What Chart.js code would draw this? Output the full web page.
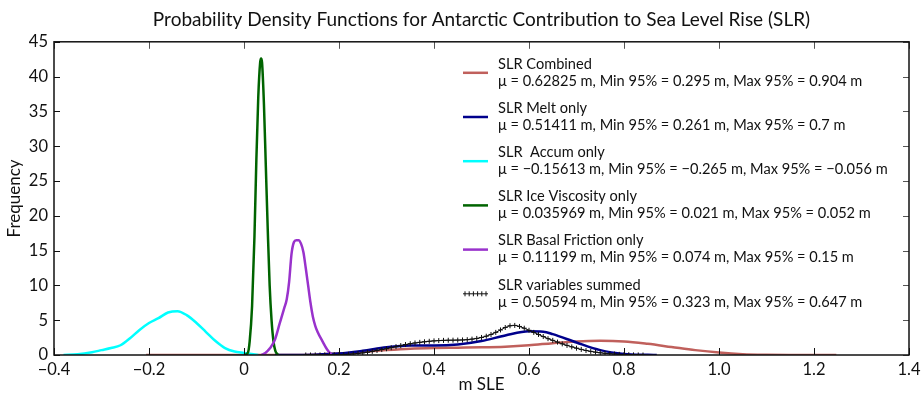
<!DOCTYPE html>
<html>
<head>
<meta charset="utf-8">
<script src="https://cdn.jsdelivr.net/npm/chart.js@4.4.1/dist/chart.umd.min.js"></script>
<style>
  html, body { margin: 0; padding: 0; background: #fff; }
  #wrap { width: 921px; height: 395px; }
</style>
</head>
<body>
<div id="wrap"><canvas id="pdf_plot" width="921" height="395"></canvas></div>
<script>
'use strict';

// Axis ticks
const X_TICKS = [-0.4, -0.2, 0, 0.2, 0.4, 0.6, 0.8, 1.0, 1.2, 1.4];
const Y_TICKS = [0, 5, 10, 15, 20, 25, 30, 35, 40, 45];

// Series names and legend stats
const NAMES = [
    "SLR Combined", "SLR Melt only", "SLR  Accum only",
    "SLR Ice Viscosity only", "SLR Basal Friction only", "SLR variables summed"
];
const STATS = [
    "\u03bc = 0.62825 m, Min 95% = 0.295 m, Max 95% = 0.904 m",
    "\u03bc = 0.51411 m, Min 95% = 0.261 m, Max 95% = 0.7 m",
    "\u03bc = \u22120.15613 m, Min 95% = \u22120.265 m, Max 95% = \u22120.056 m",
    "\u03bc = 0.035969 m, Min 95% = 0.021 m, Max 95% = 0.052 m",
    "\u03bc = 0.11199 m, Min 95% = 0.074 m, Max 95% = 0.15 m",
    "\u03bc = 0.50594 m, Min 95% = 0.323 m, Max 95% = 0.647 m"
];
const COLORS = ["#c0605c", "#00008c", "#00ffff", "#006400", "#9932cc", "#111111"];

// SLR Combined
const comb_x = [-0.206, 0.1, 0.15, 0.2, 0.25, 0.3, 0.35, 0.4, 0.45, 0.5, 0.55, 0.6, 0.65, 0.7, 0.75, 0.8, 0.85, 0.9, 0.95, 1.0, 1.05, 1.1, 1.15, 1.247];
const comb_y = [0, 0, 0.05, 0.2, 0.45, 0.7, 0.9, 1.0, 1.05, 1.1, 1.2, 1.4, 1.7, 1.95, 2.05, 1.95, 1.6, 1.15, 0.7, 0.35, 0.12, 0.03, 0, 0];

// SLR Melt only
const melt_x = [0.065, 0.15, 0.2, 0.25, 0.3, 0.35, 0.4, 0.45, 0.5, 0.55, 0.6, 0.63, 0.65, 0.7, 0.75, 0.8, 0.85, 0.869];
const melt_y = [0, 0.05, 0.2, 0.6, 1.1, 1.35, 1.35, 1.5, 2.0, 2.8, 3.4, 3.35, 3.0, 1.8, 0.7, 0.15, 0.02, 0];

// SLR Accum only
const accum_x = [-0.38, -0.35, -0.32, -0.30, -0.28, -0.26, -0.24, -0.22, -0.20, -0.18, -0.16, -0.14, -0.12, -0.10, -0.08, -0.06, -0.04, -0.02, 0, 0.02, 0.03];
const accum_y = [0, 0.1, 0.4, 0.7, 1.0, 1.4, 2.4, 3.6, 4.6, 5.3, 6.1, 6.3, 5.7, 4.6, 3.3, 2.0, 1.0, 0.5, 0.3, 0.1, 0];

// SLR Ice Viscosity only
const visc_x = [0.0, 0.008, 0.012, 0.017, 0.022, 0.026, 0.030, 0.034, 0.036, 0.038, 0.042, 0.046, 0.050, 0.054, 0.058, 0.062, 0.066, 0.072];
const visc_y = [0, 0.3, 2, 7, 17, 28, 37, 42, 42.6, 42, 36, 27, 18, 10, 5, 2, 0.6, 0];

// SLR Basal Friction only
const fric_x = [0.037, 0.045, 0.055, 0.065, 0.075, 0.085, 0.090, 0.095, 0.100, 0.105, 0.110, 0.115, 0.120, 0.125, 0.130, 0.135, 0.140, 0.145, 0.150, 0.155, 0.165, 0.175, 0.185];
const fric_y = [0, 0.3, 1.0, 2.2, 4.5, 6.8, 8.0, 10.5, 14.5, 16.2, 16.5, 16.5, 16.0, 14.8, 12.5, 10.0, 7.5, 5.5, 4.2, 3.3, 2.0, 0.8, 0];

// SLR variables summed
const sum_x = [0.13, 0.14, 0.15, 0.16, 0.17, 0.18, 0.19, 0.20, 0.21, 0.22, 0.23, 0.24, 0.25, 0.26, 0.27, 0.28, 0.29,
    0.30, 0.31, 0.32, 0.33, 0.34, 0.35, 0.36, 0.37, 0.38, 0.39, 0.40, 0.41, 0.42, 0.43, 0.44, 0.45, 0.46, 0.47, 0.48, 0.49,
    0.50, 0.51, 0.52, 0.53, 0.54, 0.55, 0.56, 0.57, 0.58, 0.59, 0.60, 0.61, 0.62, 0.63, 0.64, 0.65, 0.66, 0.67, 0.68, 0.69,
    0.70, 0.71, 0.72, 0.73, 0.74, 0.75, 0.76, 0.77, 0.78, 0.79, 0.80, 0.81, 0.82, 0.83, 0.84];
const sum_y = [0, 0, 0.01, 0.01, 0.02, 0.03, 0.04, 0.05, 0.07, 0.1, 0.15, 0.22, 0.3, 0.4, 0.52, 0.65, 0.78,
    0.9, 1.05, 1.2, 1.35, 1.5, 1.62, 1.73, 1.82, 1.9, 1.97, 2.03, 2.07, 2.1, 2.12, 2.13, 2.14, 2.16, 2.2, 2.28, 2.38,
    2.52, 2.7, 2.95, 3.25, 3.6, 3.95, 4.2, 4.25, 4.1, 3.85, 3.55, 3.25, 2.95, 2.65, 2.35, 2.1, 1.85, 1.6, 1.38, 1.17,
    0.98, 0.8, 0.65, 0.52, 0.41, 0.32, 0.24, 0.18, 0.13, 0.09, 0.06, 0.04, 0.02, 0.01, 0];

const SERIES = [
    [comb_x, comb_y], [melt_x, melt_y], [accum_x, accum_y],
    [visc_x, visc_y], [fric_x, fric_y], [sum_x, sum_y]
];

const FONT = "Lato, 'Noto Sans', sans-serif";

function points(xs, ys) {
    return xs.map((x, i) => ({ x: x, y: ys[i] }));
}

function fmtX(v) {
    if (Math.abs(v) < 1e-9) return "0";
    return v.toFixed(1).replace("-", "\u2212");
}

// Draw box and inward ticks on all four sides
const framePlugin = {
    id: 'frame',
    afterDraw(chart) {
        const ctx = chart.ctx;
        const a = chart.chartArea;
        const xs = chart.scales.x, ys = chart.scales.y;
        ctx.save();
        ctx.lineWidth = 1;
        ctx.strokeStyle = '#111';
        ctx.beginPath();
        for (const v of X_TICKS) {
            const px = Math.round(xs.getPixelForValue(v)) + 0.5;
            ctx.moveTo(px, a.bottom); ctx.lineTo(px, a.bottom - 7);
        }
        for (const v of Y_TICKS) {
            const py = Math.round(ys.getPixelForValue(v)) + 0.5;
            ctx.moveTo(a.left, py); ctx.lineTo(a.left + 6, py);
        }
        ctx.stroke();
        ctx.strokeStyle = '#555';
        ctx.beginPath();
        for (const v of X_TICKS) {
            const px = Math.round(xs.getPixelForValue(v)) + 0.5;
            ctx.moveTo(px, a.top); ctx.lineTo(px, a.top + 7);
        }
        for (const v of Y_TICKS) {
            const py = Math.round(ys.getPixelForValue(v)) + 0.5;
            ctx.moveTo(a.right, py); ctx.lineTo(a.right - 6, py);
        }
        ctx.stroke();
        ctx.strokeStyle = '#111';
        ctx.lineWidth = 1.5;
        ctx.strokeRect(a.left, a.top, a.right - a.left, a.bottom - a.top);
        ctx.restore();
    }
};

// Two-line legend inside the plot area
const legendPlugin = {
    id: 'boxLegend',
    afterDraw(chart) {
        const ctx = chart.ctx;
        const a = chart.chartArea;
        const x0 = a.right - 446;
        const y0 = a.top + 31;
        const step = 44.2;
        ctx.save();
        chart.data.datasets.forEach((ds, i) => {
            const y = y0 + i * step;
            ctx.strokeStyle = ds.borderColor;
            ctx.lineWidth = i === 5 ? 1 : 2.5;
            ctx.beginPath();
            ctx.moveTo(x0, y); ctx.lineTo(x0 + 25, y);
            ctx.stroke();
            if (i === 5) {
                ctx.beginPath();
                for (let k = 0; k < 6; k++) {
                    const px = x0 + 2 + k * 4.2;
                    ctx.moveTo(px, y - 2.5); ctx.lineTo(px, y + 2.5);
                }
                ctx.stroke();
            }
            ctx.fillStyle = '#111';
            ctx.font = '14.6px ' + FONT;
            ctx.textBaseline = 'middle';
            ctx.textAlign = 'left';
            ctx.fillText(NAMES[i], x0 + 35, y - 9);
            ctx.fillText(STATS[i], x0 + 35, y + 8);
        });
        ctx.restore();
    }
};

const datasets = SERIES.map((s, i) => ({
    label: NAMES[i],
    data: points(s[0], s[1]),
    borderColor: COLORS[i],
    backgroundColor: COLORS[i],
    borderWidth: i === 5 ? 1 : 2.5,
    pointRadius: i === 5 ? 2.5 : 0,
    pointStyle: 'cross',
    pointBorderWidth: 1,
    cubicInterpolationMode: 'monotone',
    fill: false
}));
// draw order: combined at the bottom, summed on top
datasets.forEach((d, i) => { d.order = 6 - i; });

const config = {
    type: 'line',
    data: { datasets: datasets },
    plugins: [framePlugin, legendPlugin],
    options: {
        responsive: false,
        animation: false,
        layout: { padding: { top: 0, right: 12, bottom: 0, left: 0 } },
        plugins: {
            legend: { display: false },
            tooltip: { enabled: false },
            title: {
                display: true,
                fullSize: false,
                text: 'Probability Density Functions for Antarctic Contribution to Sea Level Rise (SLR)',
                color: '#111',
                font: { family: FONT, size: 19, weight: 'normal' },
                padding: { top: 8, bottom: 11 }
            }
        },
        scales: {
            x: {
                type: 'linear',
                min: -0.4,
                max: 1.4,
                afterBuildTicks: (scale) => { scale.ticks = X_TICKS.map(v => ({ value: v })); },
                afterFit: (scale) => {
                    scale.height = 40;
                    scale.paddingLeft = 0;
                    scale.paddingRight = 0;
                },
                grid: { display: false, drawTicks: false },
                border: { display: false },
                ticks: {
                    color: '#111',
                    padding: 5,
                    maxRotation: 0,
                    font: { family: FONT, size: 16.5 },
                    callback: (v) => fmtX(v)
                },
                title: {
                    display: true,
                    text: 'm SLE',
                    color: '#111',
                    font: { family: FONT, size: 17 },
                    padding: { top: 0, bottom: 0 }
                }
            },
            y: {
                min: 0,
                max: 45,
                afterBuildTicks: (scale) => { scale.ticks = Y_TICKS.map(v => ({ value: v })); },
                afterFit: (scale) => { scale.width = 54; },
                grid: { display: false, drawTicks: false },
                border: { display: false },
                ticks: {
                    color: '#111',
                    padding: 6,
                    font: { family: FONT, size: 16.5 }
                },
                title: {
                    display: true,
                    text: 'Frequency',
                    color: '#111',
                    font: { family: FONT, size: 17 },
                    padding: { top: 4, bottom: 0 }
                }
            }
        }
    }
};

new Chart(document.getElementById('pdf_plot'), config);
</script>
</body>
</html>
